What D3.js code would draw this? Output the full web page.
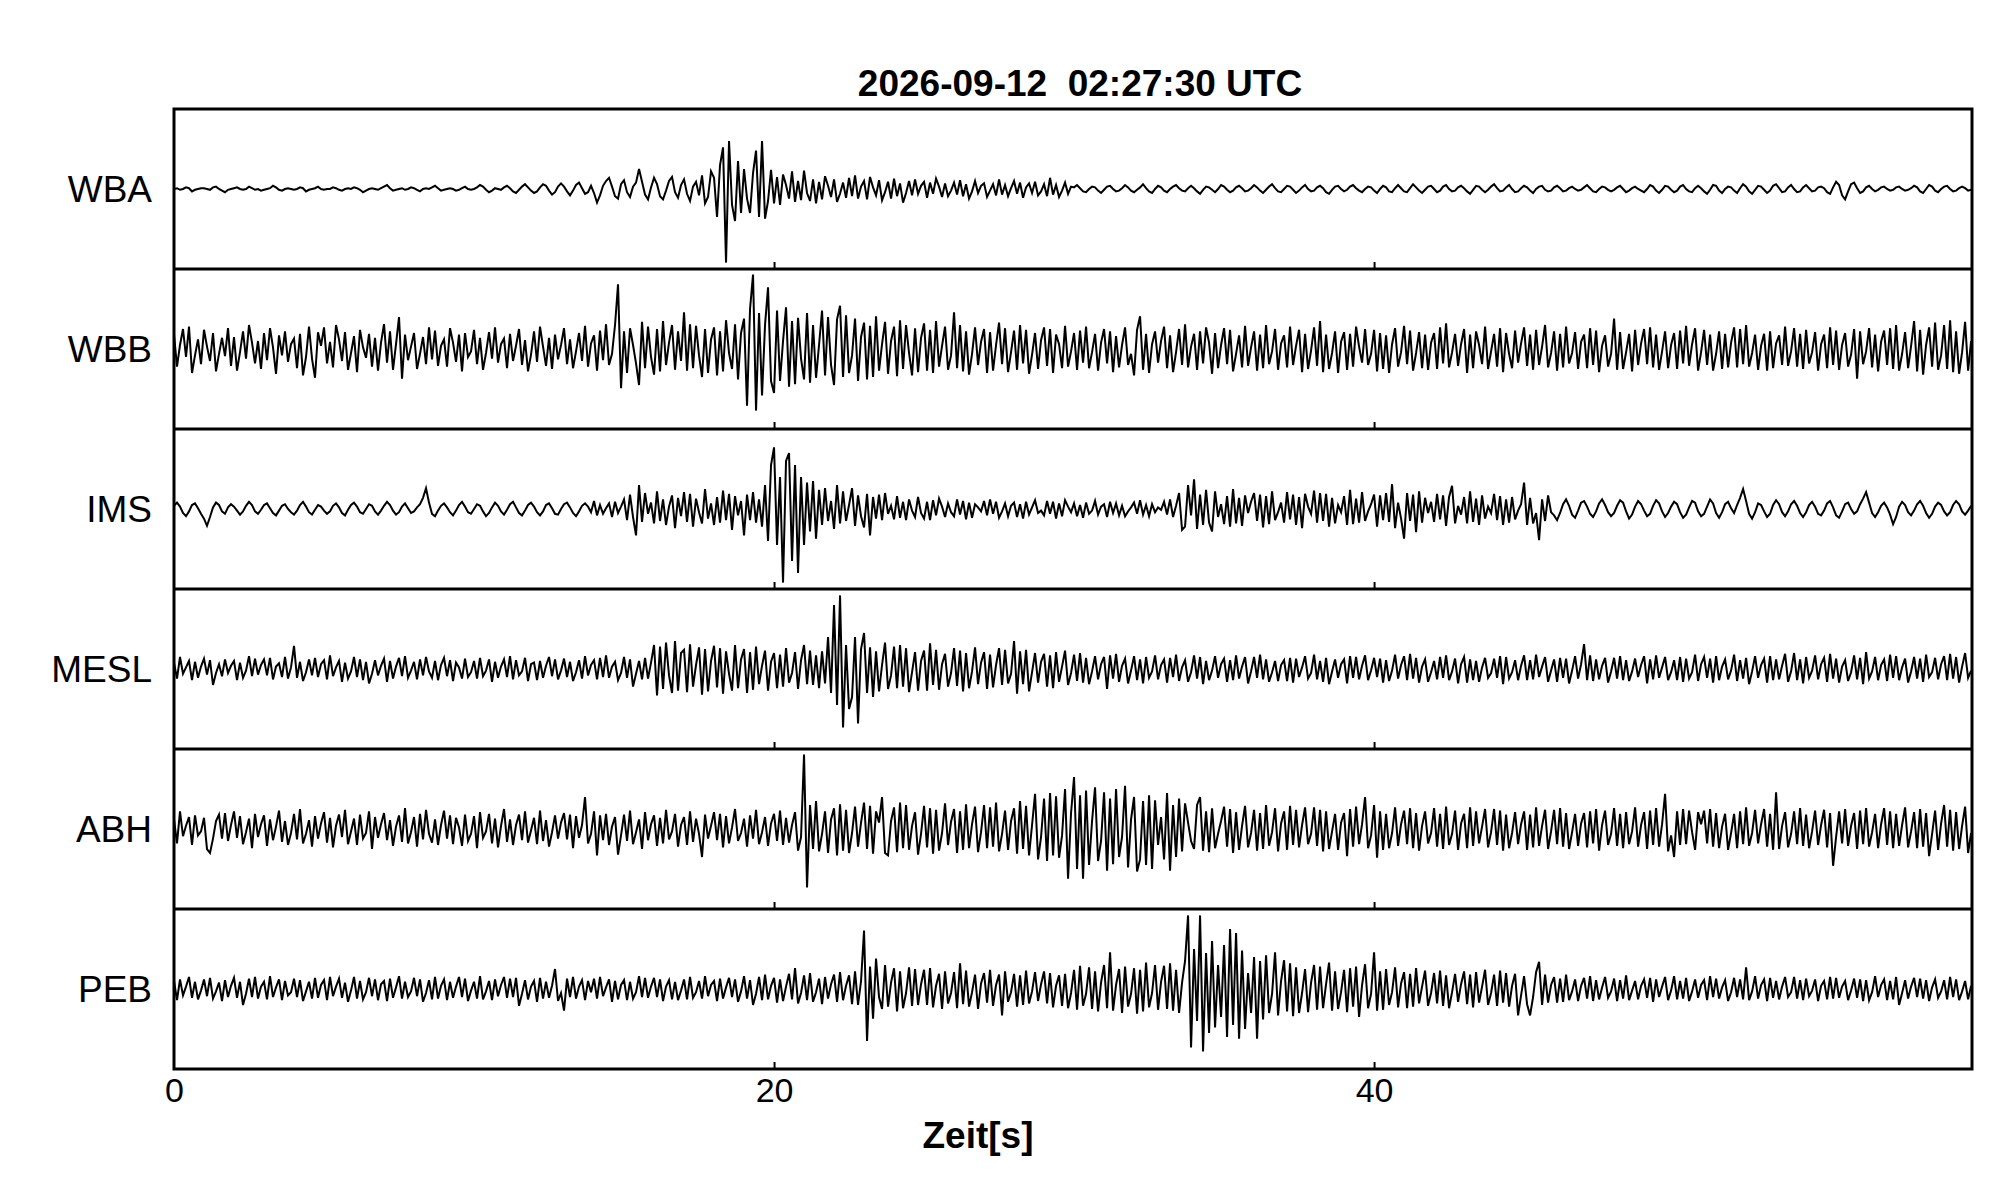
<!DOCTYPE html>
<html>
<head>
<meta charset="utf-8">
<script src="https://cdn.jsdelivr.net/npm/d3@7"></script>
<style>
  html, body { margin: 0; padding: 0; background: #fff; }
  svg { display: block; }
  text { font-family: "Liberation Sans", Arial, Helvetica, sans-serif; fill: #000; }
</style>
</head>
<body>
<svg id="chart" width="2005" height="1202"></svg>
<script>
// ---------------- data ----------------
const title = "2026-09-12  02:27:30 UTC";
const xLabel = "Zeit[s]";
const stations = ["WBA", "WBB", "IMS", "MESL", "ABH", "PEB"];
const xTicks = [0, 20, 40];
const sampleRate = 10;     // samples per second
const timeEnd = 59.93;     // seconds shown

const WBA = [
0,1,-1,0,2,1,-3,-1,0,1, 1,0,-1,2,3,0,-2,-4,-1,0, 1,2,0,-1,0,3,1,-1,0,-2, -1,0,1,4,2,-1,-2,0,1,0,
-1,0,2,1,-3,-1,0,1,3,0, -1,0,0,2,1,-1,-2,0,1,0, 2,1,-1,-4,-2,0,1,0,-1,1, 3,5,1,-2,-1,0,1,-1,0,2,
1,-1,-3,0,1,0,2,4,1,-2, -1,0,1,0,-2,-1,1,3,0,-1, 0,2,5,3,-1,-4,-2,1,0,-1, 2,4,1,-3,-5,-1,3,6,2,-2,
-5,-3,2,6,4,-2,-7,-4,3,7, 3,-3,-8,-2,5,8,1,-6,-4,4, -5,-17,-8,4,10,14,3,-9,-12,6, 11,-4,-10,3,8,25,9,-7,-13,2,
14,6,-9,-13,-2,10,15,-4,-11,5, 12,-6,-15,3,9,-8,17,-18,-10,22, 14,-35,30,52,-92,60,-20,-40,35,-30, 25,-12,-30,20,48,-35,60,-37,-15,24,
-18,15,-20,18,5,-12,22,-16,10,-14, 23,-5,-15,12,-18,9,-13,16,4,-10, 12,-16,-6,8,-11,14,-9,17,-12,3, 10,-13,15,2,-8,11,-14,-4,9,-12,
13,-9,7,-17,-5,10,-8,12,-6,4, 9,-11,8,-6,13,3,-10,7,-9,-2, 8,-7,11,-9,6,-12,-3,10,-5,4, 7,-10,-2,6,-8,12,-7,5,-9,1,
10,-6,8,-11,2,7,-5,9,-8,-3, 6,-9,14,-7,5,-10,-2,8,-6,3, 2,5,1,-3,-4,0,3,2,-2,-5, -1,3,4,0,-3,-2,1,5,2,-2,
-4,-1,2,6,1,-3,-5,0,4,2, -2,-4,0,3,5,1,-2,-3,1,4, 1,-3,-6,-1,3,2,-1,-4,0,5, 3,-1,-4,-2,2,4,1,-3,-2,1,
5,2,-2,-5,-1,3,6,1,-3,-4, 0,4,3,-1,-5,-2,2,5,0,-3, -2,2,4,1,-4,-6,-1,3,4,0, -3,-1,3,5,1,-2,-4,0,3,2,
-2,-5,0,4,2,-3,-4,1,5,1, -3,-4,1,6,2,-2,-5,-1,3,4, 0,-4,-2,3,5,0,-3,-2,2,4, 1,-3,-6,-1,4,3,-1,-4,-1,3,
6,1,-3,-2,2,5,0,-4,-3,1, 4,2,-2,-5,0,3,4,-1,-3,-2, 2,4,1,-3,-2,1,3,0,-2,-1, 2,5,1,-3,-4,0,3,2,-1,-3,
-1,2,4,0,-4,-2,1,3,0,-2, -4,0,5,3,-2,-5,-1,4,3,-1, -4,-2,3,5,0,-3,-4,1,4,1, -3,-6,-1,5,4,-2,-5,0,3,2,
-2,-5,1,6,3,-3,-6,-1,4,3, -1,-5,-2,4,6,1,-4,-3,2,5, 0,-4,-3,2,5,1,-3,-2,2,3, 1,-4,-6,2,9,5,-8,-13,-3,6,
8,1,-5,-3,2,4,0,-3,-1,2, 3,0,-2,-1,2,3,0,-2,-1,1, 4,2,-3,-5,0,5,3,-2,-4,0, 3,4,0,-3,-2,1,3,1,-2,-1
];

const WBB = [
18,-22,5,25,-10,28,-30,-8,12,-19, 24,3,-15,20,-28,-6,14,-9,26,-21, 15,-27,-4,22,-12,30,8,-18,10,-25, 20,-14,26,2,-31,17,-8,22,-16,6,
13,-24,19,-33,-10,28,-12,-36,21,4, 27,-18,9,-23,30,12,-15,21,-26,-5, 16,-29,24,2,-11,19,-22,14,-27,8, 31,-17,22,-26,6,40,-37,18,-14,3,
20,-25,-6,15,-19,27,-13,23,-21,4, 12,-22,26,8,-16,18,-28,20,-10,-3, 24,-19,14,-26,-5,21,-12,27,-17,6, 13,-24,19,-15,4,25,-20,11,-28,-7,
22,-16,28,3,-21,14,-25,18,-13,5, 26,-19,12,-24,-3,20,-15,29,-22,7, 17,-27,23,-14,31,-20,-6,30,81,-49, 22,-30,26,5,-18,-45,34,-24,28,-10,
-32,25,-28,35,-20,8,30,-26,22,-15, 46,-27,31,-24,29,-8,-35,25,-30,12, 27,-33,22,-28,36,-5,-25,31,-38,20, 38,-71,50,93,-77,45,-58,30,77,-40,
-55,48,-40,10,52,-47,35,-44,39,-12, -38,45,-42,30,-36,5,48,-33,40,-20, -45,37,54,-35,42,-30,-8,38,-40,15, 33,-38,29,-35,41,-27,6,34,-31,10,
28,-34,36,-25,30,-5,-33,26,-29,14, 32,-27,24,-30,35,-22,4,28,-26,-8, 46,-24,30,-28,22,-32,-6,27,-20,9, 25,-30,21,-27,5,33,-19,26,-29,-4,
23,-26,30,-18,24,-31,-7,20,-25,11, 27,-21,25,-30,18,6,-24,29,-22,-3, 20,-26,23,-17,28,-24,-4,19,-27,8, 25,-18,22,-29,16,-23,5,27,-20,-6,
-33,24,41,-26,19,-30,6,22,-17,10, 28,-24,17,-29,-4,25,-20,31,-23,3, 19,-26,22,-18,27,8,-31,20,-24,5, 26,-19,24,-28,-6,17,-23,29,-21,2,
22,-27,18,-24,30,-19,-3,25,-26,7, 17,-23,28,-20,4,24,-29,19,-25,-2, 27,-21,35,-29,18,-25,-5,22,-30,9, 21,-26,19,-22,28,3,-17,25,-20,-6,
24,-28,20,-25,17,-30,6,26,-22,-4, 29,-19,23,-27,-5,21,-24,18,-26,8, 20,-25,27,-18,32,-23,-4,19,-21,6, 25,-30,18,-24,22,5,-19,28,-25,-3,
19,-22,26,-29,20,-6,-24,23,-17,7, 27,-21,18,-26,24,-20,3,30,-23,-5, 22,-27,19,-23,28,-18,-5,21,-25,9, 18,-24,26,-20,23,-29,4,17,-22,-6,
38,-26,21,-25,-4,19,-28,24,-20,7, 25,-19,27,-23,18,-26,-3,22,-24,5, 20,-25,23,-18,29,-21,6,26,-27,-4, 24,-20,18,-27,-6,22,-25,19,-23,8,
27,-23,25,-19,30,-22,-5,18,-26,4, 19,-27,22,-24,7,17,-20,28,-21,-3, 26,-22,19,-25,24,-18,-4,21,-27,6, 18,-24,27,-20,23,-26,5,20,-22,-7,
25,-37,22,-19,-3,26,-23,18,-28,9, 23,-20,26,-25,30,-27,-6,21,-24,4, 35,-28,24,-32,5,27,-22,33,-26,-8, 30,-25,36,-29,22,-31,-4,34,-27,10
];

const IMS = [
4,8,3,-5,-9,-3,5,7,1,-6, -12,-21,-10,2,8,5,-3,-6,2,6, 3,-2,-7,-3,4,9,5,-3,-6,-1, 5,7,1,-5,-8,-2,4,6,0,-4,
-7,-2,5,9,3,-4,-7,-1,5,3, -2,-6,-3,4,7,2,-5,-8,-1,5, 8,3,-4,-6,0,6,4,-3,-7,-2, 4,9,5,-2,-7,-4,3,7,1,-5,
-3,2,6,14,26,8,-6,-9,-2,4, 7,2,-4,-8,-2,5,9,3,-4,-6, 0,6,4,-3,-9,-5,2,8,4,-3, -7,-1,6,9,2,-5,-8,-2,5,8,
3,-4,-8,-3,5,7,1,-6,-7,0, 6,8,2,-5,-9,-3,4,7,3,-4, 10,-8,5,-6,1,7,-10,9,-5,3, 12,-14,18,-10,-33,30,-16,20,-6,8,
-18,22,-15,12,-20,3,17,-24,14,-9, 21,-16,19,-22,13,-4,-18,25,-12,7, -20,15,-17,23,-14,19,-26,16,-8,10, -33,18,-14,21,-17,12,-22,30,-40,55,
77,-45,40,-92,60,70,-65,55,-80,40, -45,33,-28,35,-37,24,-20,26,-15,10, -25,30,-18,22,-15,5,26,-21,17,-9, -23,19,-33,15,-12,18,-14,20,-6,4,
-13,16,-11,9,-14,12,-2,-10,15,-5, -12,9,-14,11,-8,13,3,-10,7,-4, -9,12,-7,10,-13,8,-11,6,2,-3, 10,-8,12,-6,9,-11,-3,7,-9,4,
8,-10,6,-12,9,-7,2,11,-5,-2, -8,10,-6,9,-12,7,-9,11,3,-4, 7,-9,5,-11,8,-6,-2,10,-7,3, 6,-10,9,-5,7,-8,4,-9,-3,2,
8,-6,11,-7,5,-9,6,-4,2,-1, 9,-7,12,-10,4,20,-26,-22,30,-8, 37,-25,18,-20,24,-17,-28,22,-10,6, -19,16,-22,25,-18,14,-21,17,-5,9,
20,-15,18,-23,16,-19,22,-14,-4,8, -17,21,-13,18,-20,15,-24,19,3,-6, 23,-17,20,-15,19,-22,14,-18,5,-4, 16,-20,24,-19,13,-17,21,-15,-3,6,
18,-22,17,-14,20,-16,31,-24,8,-12, -37,20,-15,18,-29,22,-17,14,-5,9, -16,19,-13,17,-21,15,29,-18,4,-7, 15,-18,22,-16,13,-20,17,-12,3,-5,
19,-14,16,-20,12,-17,15,-13,-2,6, 33,-20,14,-18,-5,-39,12,-15,17,-4, -8,-14,-5,6,12,4,-7,-11,-2,8, 10,3,-6,-10,-3,7,12,5,-4,-9,
-5,4,11,8,-3,-12,-7,3,10,6, -2,-9,-6,4,11,7,-3,-10,-5,3, 9,6,-4,-11,-7,2,10,8,-3,-9, -6,3,12,7,-5,-11,-4,6,9,1,
-5,5,14,25,10,-6,-12,-4,7,5, -3,-10,-6,5,11,6,-4,-9,-3,6, 10,4,-5,-10,-4,5,9,3,-6,-8, -2,7,10,2,-8,-11,-3,6,8,0,
-6,-3,6,13,21,8,-5,-10,-4,4, 8,2,-7,-19,-10,3,9,5,-4,-8, -2,6,10,4,-5,-11,-6,3,8,5, -3,-8,-4,5,10,6,-3,-7,-2,4
];

const MESL = [
8,-12,15,-6,2,10,-14,9,-11,3, 13,-7,11,-20,-5,6,-9,12,-5,4, 10,-14,8,-11,-2,16,-9,13,-7,5, 12,-8,14,-13,3,7,-10,15,-12,2,
29,-11,9,-15,-4,12,-8,14,-10,6, 11,-13,17,-9,2,10,-16,8,-12,-3, 15,-10,12,-14,9,-18,-6,11,-8,4, 13,-16,10,-12,3,14,-9,16,-11,-2,
9,-13,12,-8,15,-3,-11,10,-14,5, 14,-9,11,-15,8,2,-12,13,-10,-4, 10,-12,14,-9,-2,12,-16,9,-11,3, 12,-10,16,-13,11,-8,-3,14,-15,6,
8,-14,10,-11,4,15,-9,12,-13,-2, 13,-10,9,-15,-4,11,-12,16,-8,5, 11,-13,14,-10,17,-11,3,9,-14,-5, 15,-11,12,-22,-6,10,-13,14,-12,8,
30,-33,28,-25,33,-8,-30,35,-27,20, 24,-29,31,-22,5,27,-32,25,-28,10, 29,-23,26,-31,22,-6,-27,30,-24,12, 25,-30,21,-26,28,-19,4,23,-27,9,
20,-24,18,-22,26,-17,-5,21,-25,11, 30,-19,23,-20,17,-24,22,-18,40,-30, 80,-45,92,-73,30,-50,-35,40,-68,25, 45,-30,27,-35,22,-28,5,33,-25,-8,
28,-24,30,-22,26,-29,-4,21,-27,10, 23,-27,32,-20,24,-26,6,19,-22,-5, 26,-21,23,-28,20,-24,-3,27,-19,8, 21,-25,18,-23,5,26,-20,24,-18,-6,
35,-31,22,-19,24,-28,-4,20,-17,9, 19,-22,17,-24,21,-16,3,23,-20,-5, 18,-15,20,-17,14,-19,-3,16,-13,6, 15,-25,17,-12,19,-16,4,13,-18,-2,
16,-14,12,-18,15,-11,-3,17,-13,5, 12,-17,14,-10,18,-15,2,11,-16,-4, 17,-12,15,-19,10,-14,-2,16,-11,6, 13,-16,11,-14,17,-12,3,15,-18,-3,
15,-11,18,-13,12,-16,-4,10,-15,5, 11,-15,14,-17,13,-10,2,16,-12,-5, 18,-13,10,-16,14,-19,-3,12,-11,6, 12,-18,16,-11,15,-13,4,17,-14,-2,
14,-10,13,-17,11,-15,-2,18,-12,5, 16,-14,19,-12,14,-17,3,12,-16,-4, 10,-13,15,-11,17,-14,-3,13,-18,6, 15,-17,12,-14,10,-16,2,14,-11,-5,
13,-11,16,-19,15,-12,-4,11,-14,4, 17,-14,11,-13,18,-10,3,15,-16,-2, 12,-16,14,-11,13,-18,-2,16,-12,6, 31,-14,17,-15,12,-13,4,14,-17,-3,
14,-12,16,-14,11,-15,-3,13,-10,5, 16,-18,12,-13,17,-11,2,15,-14,-4, 11,-14,15,-16,13,-12,-4,18,-15,6, 15,-11,13,-17,16,-14,3,12,-13,-2,
18,-15,11,-12,14,-19,-3,16,-11,5, 13,-17,16,-14,12,-13,4,19,-16,-3, 20,-14,12,-18,15,-11,-2,17,-13,6, 14,-16,19,-12,13,-17,3,11,-15,-4,
17,-13,14,-19,21,-12,-3,15,-14,5, 12,-15,18,-11,16,-14,2,13,-17,-3, 15,-12,13,-16,18,-10,-4,14,-13,6, 16,-14,19,-12,15,-17,3,20,-11,-2
];

const ABH = [
12,-18,22,-9,4,15,-20,17,-8,-3, 14,-25,-30,-12,10,18,-12,20,-15,5, 22,-11,16,-19,-4,13,-24,19,-10,6, 17,-21,12,-14,3,23,-16,10,-20,-5,
19,-13,25,-18,-6,11,-22,16,-12,7, 21,-17,14,-23,4,18,-10,24,-19,-3, 13,-20,18,-12,-5,22,-25,15,-11,6, 20,-14,11,-21,3,17,-16,26,-18,-4,
15,-22,19,-13,24,-6,-17,12,-20,5, 23,-12,17,-19,14,2,-21,18,-15,-6, 16,-24,21,-11,-3,19,-18,13,-23,4, 25,-16,12,-20,5,18,-14,22,-17,-2,
14,-19,23,-15,11,-22,-4,17,-12,8, 20,-13,18,-24,16,-11,5,40,-18,-6, 22,-33,17,-14,19,-20,3,15,-32,-8, 18,-15,23,-19,-4,12,-25,21,-14,6,
17,-21,14,-18,24,-13,-3,19,-22,5, 15,-20,22,-16,13,-6,-35,18,-12,4, 21,-14,19,-23,16,-18,2,25,-15,-5, 13,-22,17,-12,24,-19,-4,15,-21,7,
19,-15,23,-20,14,-17,5,21,-27,-10, 93,-73,30,-25,35,-28,-6,22,-30,12, 26,-33,31,-27,24,-30,-5,28,-22,8, 33,-25,29,-31,22,8,40,-30,-33,10,
27,-29,33,-24,30,-26,4,21,-32,-6, 29,-23,26,-31,24,-27,-5,32,-20,9, 25,-30,22,-26,31,-24,6,28,-29,-4, 30,-24,27,-22,33,-28,-6,23,-26,10,
26,-31,35,-25,29,-33,5,44,-38,-10, 38,-40,45,-33,41,-36,-8,50,-62,20, 65,-50,42,-62,48,-45,10,52,-40,-15, 46,-52,38,-44,50,-35,-10,54,-48,12,
40,-53,-38,35,-45,42,-50,36,-20,15, -38,45,-52,30,-35,38,-28,32,8,-15, -25,30,40,-27,22,-29,26,-24,-6,10, 28,-22,25,-30,21,-26,4,29,-23,-5,
24,-27,20,-25,30,-21,-4,26,-28,7, 22,-26,29,-20,24,-23,5,27,-19,-6, 27,-21,24,-28,22,-25,-3,19,-26,8, 20,-34,25,-22,28,-19,6,40,-24,-8,
30,-36,22,-26,19,-24,-5,27,-21,6, 23,-19,26,-24,20,-27,4,22,-18,-5, 26,-22,19,-25,28,-20,-6,23,-26,7, 19,-24,27,-21,22,-18,3,25,-23,-4,
25,-20,23,-27,18,-24,-5,21,-19,6, 22,-26,18,-23,27,-21,4,24,-25,-3, 24,-19,26,-22,20,-25,-4,19,-21,7, 20,-23,22,-18,25,-27,5,23,-20,-6,
26,-21,19,-24,21,-19,-3,27,-22,5, 21,-25,23,-20,26,-22,6,44,-28,-8, -35,22,-20,25,-19,23,-4,-26,21,6, 23,-18,25,-22,20,-24,3,19,-26,-5,
19,-24,22,-19,27,-21,-5,24,-18,6, 25,-22,19,-26,46,-25,4,21,-23,-6, 22,-19,26,-21,18,-24,-3,23,-20,5, 24,-23,20,-46,-10,22,-18,25,-21,4,
20,-25,23,-19,26,-22,-4,19,-24,6, 26,-20,22,-24,19,-21,5,27,-23,-3, 21,-24,25,-22,20,-34,-6,23,-26,7, 30,-22,24,-27,21,-25,4,28,-30,-5
];

const PEB = [
10,-14,12,-8,3,15,-11,9,-13,-2, 12,-9,14,-12,-3,8,-15,11,-10,4, 14,-11,9,-20,-6,13,-10,15,-12,3, 9,-13,16,-10,2,12,-14,10,-8,-4,
13,-10,11,-15,-3,9,-12,14,-11,5, 11,-14,15,-9,3,13,-11,8,-16,-2, 15,-12,10,-13,-4,14,-9,12,-14,6, 10,-15,13,-11,2,16,-12,9,-10,-3,
14,-9,12,-16,-5,11,-13,15,-12,4, 12,-14,9,-11,3,15,-10,13,-15,-2, 9,-12,16,-13,-3,10,-14,12,-9,5, 15,-11,13,-10,14,-21,-6,11,-13,3,
10,-16,14,-12,9,-11,4,25,-15,-5, -27,13,-10,15,-12,3,11,-14,10,-4, 13,-12,15,-9,2,12,-16,10,-13,5, 11,-14,9,-12,-4,16,-10,14,-11,3,
14,-10,12,-15,3,11,-13,9,-14,-2, 12,-13,15,-11,-4,10,-12,16,-9,5, 10,-15,13,-12,2,14,-10,12,-16,-3, 16,-12,11,-20,-6,15,-14,18,-13,4,
14,-17,12,-15,3,19,-13,26,-18,-5, 17,-14,20,-16,-4,13,-19,15,-12,6, 18,-16,21,-14,4,17,-19,22,-20,10, 73,-65,28,-37,38,-10,-25,30,-22,8,
26,-28,22,-24,-5,27,-21,25,-20,6, 24,-20,26,-23,4,19,-25,22,-18,-5, 21,-24,32,-19,23,-22,-4,18,-25,7, 20,-17,24,-21,5,18,-33,22,-16,-4,
19,-22,17,-20,23,-18,-3,21,-15,6, 22,-18,20,-23,4,17,-21,19,-24,-5, 24,-26,29,-21,-6,27,-25,22,-28,8, 30,-24,46,-27,5,25,-30,28,-22,-6,
26,-31,24,-28,33,-23,-5,30,-26,9, 29,-25,32,-27,24,-30,8,35,92,-73, 50,-40,92,-78,45,-55,60,-48,30,-35, 55,-60,75,-45,70,-62,48,-50,20,-30,
40,-62,35,-38,42,-30,-6,46,-33,10, 36,-28,32,-34,27,-30,-5,25,-29,8, 30,-26,28,-24,6,33,-27,22,-25,-4, 24,-29,26,-22,28,-35,5,31,-24,-6,
46,-27,22,-26,25,-20,-4,27,-23,7, 21,-24,19,-22,26,-18,3,23,-21,-5, 20,-18,23,-21,17,-24,-4,19,-16,6, 22,-19,18,-23,21,-17,3,24,-20,-5,
18,-21,23,-17,20,-22,4,19,-33,-8, 16,-19,-33,-10,21,34,-20,18,-17,5, 15,-17,13,-16,18,-14,-3,12,-15,4, 14,-12,16,-15,11,-13,2,15,-11,-3,
13,-15,11,-12,17,-14,-2,10,-13,4, 12,-11,14,-16,12,-10,3,15,-14,-2, 16,-13,10,-12,14,-15,-3,12,-11,5, 11,-14,16,-10,13,-12,2,11,-15,-4,
14,-10,12,-13,27,-14,-3,16,-12,5, 12,-15,14,-11,10,-13,3,15,-10,-4, 15,-12,11,-14,13,-9,-2,12,-15,4, 10,-13,15,-12,14,-11,3,10,-14,-2,
13,-11,12,-15,11,-14,-4,16,-10,5, 12,-14,10,-13,15,-20,-5,11,-12,3, 14,-10,13,-12,11,-15,2,12,-11,-3, 11,-13,15,-10,12,-14,-3,10,-13,4
];

const traces = [WBA, WBB, IMS, MESL, ABH, PEB];

// ---------------- layout ----------------
const W = 2005, H = 1202;
const plotLeft = 174, plotRight = 1972, plotTop = 109, plotBottom = 1069;
const panelH = (plotBottom - plotTop) / stations.length;

const svg = d3.select("#chart");
svg.append("rect").attr("width", W).attr("height", H).attr("fill", "#fff");

const x = d3.scaleLinear().domain([0, timeEnd]).range([plotLeft, plotRight]);
const panel = d3.scaleBand().domain(stations).range([plotTop, plotBottom]).paddingInner(0).paddingOuter(0);

svg.append("clipPath").attr("id", "plotclip")
  .append("rect").attr("x", plotLeft).attr("y", plotTop)
  .attr("width", plotRight - plotLeft).attr("height", plotBottom - plotTop);

stations.forEach((name, i) => {
  const y0 = panel(name);
  const y = d3.scaleLinear().domain([-100, 100]).range([y0 + panelH, y0]);
  const vals = traces[i];
  const line = d3.line()
    .x((d, k) => x(k / sampleRate))
    .y(d => y(d));
  svg.append("path")
    .datum(vals)
    .attr("d", line)
    .attr("fill", "none")
    .attr("stroke", "#000")
    .attr("stroke-width", 2)
    .attr("stroke-linejoin", "miter")
    .attr("clip-path", "url(#plotclip)");

  svg.append("text")
    .attr("x", 152)
    .attr("y", y(0) + 13)
    .attr("text-anchor", "end")
    .attr("font-size", 37)
    .text(name);

  const axis = d3.axisTop(x).tickValues(xTicks.filter(t => t > 0)).tickSize(7).tickFormat("");
  const g = svg.append("g").attr("transform", `translate(0,${y0 + panelH})`).call(axis);
  g.select(".domain").remove();
  g.selectAll(".tick line").attr("stroke", "#000").attr("stroke-width", 2);
});

stations.slice(1).forEach(name => {
  svg.append("line")
    .attr("x1", plotLeft).attr("x2", plotRight)
    .attr("y1", panel(name)).attr("y2", panel(name))
    .attr("stroke", "#000").attr("stroke-width", 3);
});

svg.append("rect")
  .attr("x", plotLeft).attr("y", plotTop)
  .attr("width", plotRight - plotLeft).attr("height", plotBottom - plotTop)
  .attr("fill", "none").attr("stroke", "#000").attr("stroke-width", 3);

const xAxis = d3.axisBottom(x).tickValues(xTicks).tickSize(0).tickPadding(0).tickFormat(d3.format("d"));
const gx = svg.append("g").attr("transform", `translate(0,${plotBottom})`).call(xAxis);
gx.select(".domain").remove();
gx.selectAll(".tick text")
  .attr("dy", null)
  .attr("y", 33)
  .attr("font-size", 34)
  .attr("font-family", '"Liberation Sans", Arial, sans-serif')
  .attr("fill", "#000");

svg.append("text")
  .attr("x", 978)
  .attr("y", 1148)
  .attr("text-anchor", "middle")
  .attr("font-size", 37)
  .attr("font-weight", "bold")
  .text(xLabel);

svg.append("text")
  .attr("x", 1080)
  .attr("y", 96)
  .attr("text-anchor", "middle")
  .attr("font-size", 37)
  .attr("font-weight", "bold")
  .style("white-space", "pre")
  .text(title);
</script>
</body>
</html>
